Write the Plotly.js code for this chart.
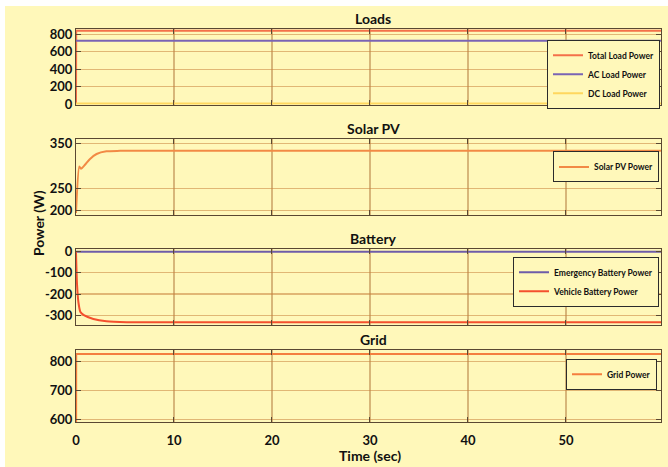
<!DOCTYPE html>
<html>
<head>
<meta charset="utf-8">
<script src="https://cdn.plot.ly/plotly-3.0.1.min.js"></script>
<style>
  html, body { margin: 0; padding: 0; background: #ffffff; }
  #chart { position: absolute; left: 5px; top: 6px; width: 663px; height: 461px; }
</style>
</head>
<body>
<div id="chart"></div>
<script>
// Time axis ticks (seconds)
const timeTicks = [0, 10, 20, 30, 40, 50];

// Loads panel
const loadTime = [0, 0.02, 59.7];
const totalLoadPower = [0, 840, 840];
const acLoadTime = [0, 59.7];
const acLoadPower = [725, 725];
const dcLoadPower = [10, 10];

// Solar PV panel
const solarTime = [0, 0.34, 0.51, 0.92, 1.43, 2.1, 3.1, 4.5, 59.7];
const solarPower = [195, 298, 293, 302, 315, 326, 332, 333, 333];

// Battery panel
const emergencyTime = [0, 59.7];
const emergencyBatteryPower = [0, 0];
const vehicleTime = [0, 0.1, 0.25, 0.45, 0.8, 1.77, 3.1, 5.2, 59.7];
const vehicleBatteryPower = [0, -150, -240, -285, -300, -318, -329, -333, -333];

// Grid panel
const gridTime = [0, 0.02, 59.7];
const gridPower = [0, 826, 826];

// Tick values and labels per panel
const loadTicks = [0, 200, 400, 600, 800];
const solarTicks = [200, 250, 350];
const batteryTicks = [0, -100, -200, -300];
const batteryTickText = ['0', '-100', '-200', '-300'];
const gridTicks = [600, 700, 800];

const BG = '#FFF8BA';
const FRAME = '#5a4832';
const GRID_Y = 'rgba(200,130,60,0.55)';
const GRID_X = 'rgba(175,115,55,0.5)';
const FONT = 'Lato, "Open Sans", sans-serif';

// Plot area spans 393px vertically; domains derived from panel pixel edges
function dom(topPx, botPx) {
  return [(416.3 - botPx) / 393, (416.3 - topPx) / 393];
}
const d1 = dom(23, 99), d2 = dom(133, 209), d3 = dom(243.3, 319), d4 = dom(344.7, 416.3);

function xax(anchor, showLabels) {
  return {
    anchor: anchor, matches: anchor === 'y' ? undefined : 'x',
    range: [0, 59.7], tickvals: timeTicks, showticklabels: showLabels,
    showgrid: true, gridcolor: GRID_X, gridwidth: 1.3,
    showline: true, linecolor: FRAME, linewidth: 1, mirror: 'ticks',
    ticks: 'inside', ticklen: 5, tickcolor: FRAME,
    zeroline: false, ticklabelstandoff: 6,
    tickfont: {family: FONT, size: 13, color: '#111', weight: 'bold'}
  };
}
function yax(anchor, domain, range, ticks, text) {
  const ax = {
    anchor: anchor, domain: domain, range: range, tickvals: ticks,
    showgrid: true, gridcolor: GRID_Y, gridwidth: 1.2,
    showline: true, linecolor: FRAME, linewidth: 1, mirror: 'ticks',
    ticks: 'inside', ticklen: 5, tickcolor: FRAME, zeroline: false,
    tickfont: {family: FONT, size: 13, color: '#111', weight: 'bold'}
  };
  if (text) ax.ticktext = text;
  return ax;
}

const traces = [
  {x: loadTime, y: totalLoadPower, name: 'Total Load Power', xaxis: 'x', yaxis: 'y', legend: 'legend',
   mode: 'lines', line: {color: '#F4704A', width: 2}},
  {x: acLoadTime, y: acLoadPower, name: 'AC Load Power', xaxis: 'x', yaxis: 'y', legend: 'legend',
   mode: 'lines', line: {color: '#7A64B4', width: 2}},
  {x: acLoadTime, y: dcLoadPower, name: 'DC Load Power', xaxis: 'x', yaxis: 'y', legend: 'legend',
   mode: 'lines', line: {color: '#FFD75E', width: 2}},
  {x: solarTime, y: solarPower, name: 'Solar PV Power', xaxis: 'x2', yaxis: 'y2', legend: 'legend2',
   mode: 'lines', line: {color: '#F28A45', width: 2, shape: 'spline', smoothing: 0.6}},
  {x: emergencyTime, y: emergencyBatteryPower, name: 'Emergency Battery Power', xaxis: 'x3', yaxis: 'y3', legend: 'legend3',
   mode: 'lines', line: {color: '#6E5CA8', width: 2}},
  {x: vehicleTime, y: vehicleBatteryPower, name: 'Vehicle Battery Power', xaxis: 'x3', yaxis: 'y3', legend: 'legend3',
   mode: 'lines', line: {color: '#F4502E', width: 2, shape: 'spline', smoothing: 0.6}},
  {x: gridTime, y: gridPower, name: 'Grid Power', xaxis: 'x4', yaxis: 'y4', legend: 'legend4',
   mode: 'lines', line: {color: '#F47E3E', width: 2}}
];

function leg(xPx, topPx) {
  return {
    x: (xPx - 71) / 585, xanchor: 'right', y: (416.3 - topPx) / 393, yanchor: 'top',
    bgcolor: BG, bordercolor: '#2b2b2b', borderwidth: 1,
    font: {family: FONT, size: 8.5, color: '#111', weight: 'bold'},
    itemwidth: 30, tracegroupgap: 0
  };
}

function panelTitle(text, domain) {
  return {text: text, xref: 'paper', yref: 'paper', x: 0.508, y: domain[1],
          xanchor: 'center', yanchor: 'bottom', showarrow: false, yshift: 0,
          font: {family: FONT, size: 14, color: '#111', weight: 'bold'}};
}

const layout = {
  width: 663, height: 461,
  margin: {l: 71, r: 7, t: 23, b: 45},
  paper_bgcolor: BG, plot_bgcolor: BG,
  showlegend: true,
  xaxis: xax('y', false),
  xaxis2: xax('y2', false),
  xaxis3: xax('y3', false),
  xaxis4: xax('y4', true),
  yaxis: yax('x', d1, [-5, 860], loadTicks),
  yaxis2: yax('x2', d2, [191, 360], solarTicks),
  yaxis3: yax('x3', d3, [-345, 13], batteryTicks, batteryTickText),
  yaxis4: yax('x4', d4, [592, 838], gridTicks),
  legend: leg(655, 34),
  legend2: leg(654, 145.7),
  legend3: leg(654, 251),
  legend4: leg(652, 353),
  annotations: [
    panelTitle('Loads', d1),
    panelTitle('Solar PV', d2),
    panelTitle('Battery', d3),
    panelTitle('Grid', d4),
    {text: 'Power (W)', xref: 'paper', yref: 'paper', x: (33.3 - 71) / 585, y: (416.3 - 217) / 393,
     xanchor: 'center', yanchor: 'middle', textangle: -90, showarrow: false,
     font: {family: FONT, size: 14, color: '#111', weight: 'bold'}},
    {text: 'Time (sec)', xref: 'paper', yref: 'paper', x: (365 - 71) / 585, y: (416.3 - 450) / 393,
     xanchor: 'center', yanchor: 'middle', showarrow: false,
     font: {family: FONT, size: 14, color: '#111', weight: 'bold'}}
  ]
};

Plotly.newPlot('chart', traces, layout, {staticPlot: true, displayModeBar: false});
</script>
</body>
</html>
